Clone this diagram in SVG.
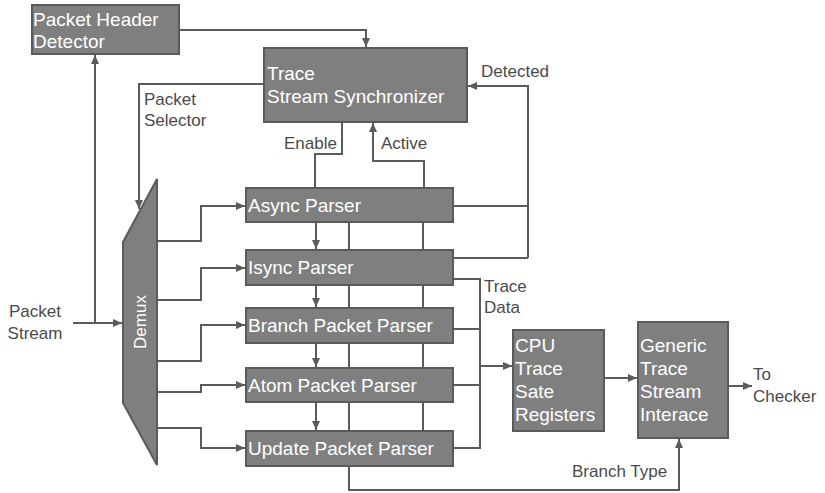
<svg xmlns="http://www.w3.org/2000/svg" width="825" height="493" viewBox="0 0 825 493">
<style>
.box{fill:#7f7f7f;stroke:#5a5a5a;stroke-width:2}
.bt{font-family:"Liberation Sans",Arial,sans-serif;font-size:19px;fill:#ffffff}
.lb{font-family:"Liberation Sans",Arial,sans-serif;font-size:17px;fill:#4a4a4a}
.ln{fill:none;stroke:#5b5b5b;stroke-width:2}
.ar{marker-end:url(#ah)}
</style>
<defs>
<marker id="ah" markerWidth="10" markerHeight="8" refX="9" refY="4" orient="auto" markerUnits="userSpaceOnUse">
<path d="M0,0 L9,4 L0,8 z" fill="#5b5b5b"/>
</marker>
</defs>
<rect width="825" height="493" fill="#ffffff"/>
<g id="connectors">
<path class="ln ar" d="M179,30 H366 V47"/>
<path class="ln ar" d="M73,323 H122"/>
<path class="ln ar" d="M95,323 V55"/>
<path class="ln ar" d="M264,84 H139 V209"/>
<path class="ln" d="M342,122 V154 H315 V188"/>
<path class="ln ar" d="M424,188 V161 H373 V123"/>
<path class="ln ar" d="M157,241 H201 V206 H245"/>
<path class="ln ar" d="M157,300 H201 V268 H245"/>
<path class="ln ar" d="M157,361 H201 V325 H245"/>
<path class="ln ar" d="M157,392 H201 V385 H245"/>
<path class="ln ar" d="M157,428 H201 V448 H245"/>
<path class="ln ar" d="M316,222 V249"/>
<path class="ln ar" d="M316,285 V307"/>
<path class="ln ar" d="M316,343 V367"/>
<path class="ln ar" d="M316,402 V430"/>
<path class="ln" d="M349,222 V250 M349,285 V308 M349,343 V368 M349,402 V431"/>
<path class="ln" d="M423,222 V250 M423,285 V308 M423,343 V368 M423,402 V431"/>
<path class="ln ar" d="M349,466 V490 H679 V439"/>
<path class="ln" d="M453,206 H528 M453,258 H528"/>
<path class="ln ar" d="M528,258 V86 H468"/>
<path class="ln" d="M453,279 H480 V448 H453 M453,329 H480 M453,385 H480"/>
<path class="ln ar" d="M480,366 H512"/>
<path class="ln ar" d="M604,378 H637"/>
<path class="ln ar" d="M728,386 H752"/>
</g>
<g id="packet-header-detector">
<rect class="box" x="32" y="5" width="147" height="49"/>
<text class="bt" x="33" y="26">Packet Header</text>
<text class="bt" x="33" y="48">Detector</text>
</g>
<g id="trace-stream-synchronizer">
<rect class="box" x="264" y="48" width="203" height="74"/>
<text class="bt" x="267" y="80">Trace</text>
<text class="bt" x="267" y="103">Stream Synchronizer</text>
</g>
<g id="demux">
<polygon class="box" points="157,179 157,465 123,403 123,242"/>
<text class="bt" font-size="17" transform="translate(146,322) rotate(-90)" text-anchor="middle" style="font-size:17px">Demux</text>
</g>
<g id="async-parser">
<rect class="box" x="246" y="188" width="207" height="34"/>
<text class="bt" x="248" y="212">Async Parser</text>
</g>
<g id="isync-parser">
<rect class="box" x="246" y="250" width="207" height="35"/>
<text class="bt" x="248" y="274">Isync Parser</text>
</g>
<g id="branch-packet-parser">
<rect class="box" x="246" y="308" width="207" height="35"/>
<text class="bt" x="248" y="332">Branch Packet Parser</text>
</g>
<g id="atom-packet-parser">
<rect class="box" x="246" y="368" width="207" height="34"/>
<text class="bt" x="248" y="392">Atom Packet Parser</text>
</g>
<g id="update-packet-parser">
<rect class="box" x="246" y="431" width="207" height="35"/>
<text class="bt" x="248" y="455">Update Packet Parser</text>
</g>
<g id="cpu-trace-state-registers">
<rect class="box" x="513" y="330" width="91" height="101"/>
<text class="bt" x="515" y="352">CPU</text>
<text class="bt" x="515" y="375">Trace</text>
<text class="bt" x="515" y="398">Sate</text>
<text class="bt" x="515" y="421">Registers</text>
</g>
<g id="generic-trace-stream-interface">
<rect class="box" x="638" y="322" width="90" height="116"/>
<text class="bt" x="640" y="352">Generic</text>
<text class="bt" x="640" y="375">Trace</text>
<text class="bt" x="640" y="398">Stream</text>
<text class="bt" x="640" y="421">Interace</text>
</g>
<g id="labels">
<text class="lb" x="35" y="317" text-anchor="middle">Packet</text>
<text class="lb" x="35" y="339" text-anchor="middle">Stream</text>
<text class="lb" x="144" y="105">Packet</text>
<text class="lb" x="144" y="126">Selector</text>
<text class="lb" x="284" y="149">Enable</text>
<text class="lb" x="381" y="149">Active</text>
<text class="lb" x="481" y="77">Detected</text>
<text class="lb" x="484" y="292">Trace</text>
<text class="lb" x="484" y="313">Data</text>
<text class="lb" x="753" y="380">To</text>
<text class="lb" x="753" y="402">Checker</text>
<text class="lb" x="572" y="477">Branch Type</text>
</g>
</svg>
